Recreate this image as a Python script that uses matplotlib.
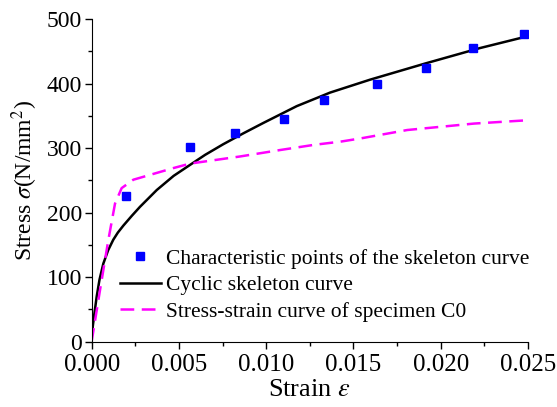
import matplotlib
matplotlib.use('Agg')
import matplotlib.pyplot as plt
from matplotlib.ticker import MultipleLocator, FormatStrFormatter

# characteristic points of the skeleton curve
pt_strain = [0.00195, 0.00566, 0.00824, 0.0110, 0.0133, 0.01636, 0.01917, 0.02185, 0.02477]
pt_stress = [226, 302, 324, 345, 374, 399, 424, 455, 477]

# cyclic skeleton curve
skel_strain = [0.0, 0.00008, 0.00018, 0.00029, 0.00045, 0.00067, 0.00095, 0.00124, 0.0015,
               0.00182, 0.0023, 0.00277, 0.00325, 0.00373, 0.0047, 0.00564, 0.0065, 0.00754,
               0.0087, 0.00984, 0.01175, 0.01366, 0.01595, 0.0191, 0.02225, 0.02493]
skel_stress = [8, 27, 48, 70, 96, 121, 142, 158, 169,
               180, 195, 209, 222, 235, 257, 274, 289.5, 306,
               323, 339, 365, 386, 406, 431, 455, 473]

# monotonic stress-strain curve of specimen C0
c0_strain = [0.0, 0.00048, 0.00096, 0.00134, 0.00172, 0.00239, 0.00468, 0.00564, 0.0085,
             0.0108, 0.01273, 0.01426, 0.01541, 0.01808, 0.02191, 0.02489]
c0_stress = [0, 80, 158, 214, 238, 251, 269, 276, 287,
             297, 305, 310, 315, 328, 338, 343]

plt.rcParams['font.family'] = 'Liberation Serif'
plt.rcParams['mathtext.fontset'] = 'stix'
plt.rcParams['xtick.direction'] = 'out'
plt.rcParams['ytick.direction'] = 'out'

fig = plt.figure(figsize=(5.57, 4.07), dpi=100)
ax = fig.add_axes([0.1645, 0.1604, 0.7835, 0.7929])

ax.plot(pt_strain, pt_stress, 's', color='#0000ff', markersize=6.2, linestyle='none',
        label='Characteristic points of the skeleton curve', zorder=3)
ax.plot(skel_strain, skel_stress, '-', color='black', lw=1.8,
        label='Cyclic skeleton curve')
ax.plot(c0_strain, c0_stress, '--', color='#ff00ff', lw=1.8, dashes=(5.5, 3),
        label='Stress-strain curve of specimen C0')

ax.set_xlim(0, 0.025)
ax.set_ylim(0, 500)
ax.xaxis.set_major_locator(MultipleLocator(0.005))
ax.xaxis.set_minor_locator(MultipleLocator(0.0025))
ax.yaxis.set_major_locator(MultipleLocator(100))
ax.yaxis.set_minor_locator(MultipleLocator(50))
ax.xaxis.set_major_formatter(FormatStrFormatter('%.3f'))
ax.tick_params(which='major', length=5, width=1, pad=2)
ax.tick_params(which='minor', length=3, width=1)
ax.tick_params(axis='x', labelsize=18, pad=4)
ax.tick_params(axis='y', labelsize=17)

for s in ['top', 'right']:
    ax.spines[s].set_visible(False)

ax.set_xlabel('Strain $\\varepsilon$', fontsize=19, labelpad=2)
ax.set_ylabel('Stress $\\sigma$(N/mm$^2$)', fontsize=17, labelpad=5)

ax.legend(loc='upper left', bbox_to_anchor=(0.03, 0.335), frameon=False, fontsize=15.5,
          handlelength=1.9, handletextpad=0.25, labelspacing=0.3, borderpad=0.2)

fig.savefig('out.png', dpi=100)
